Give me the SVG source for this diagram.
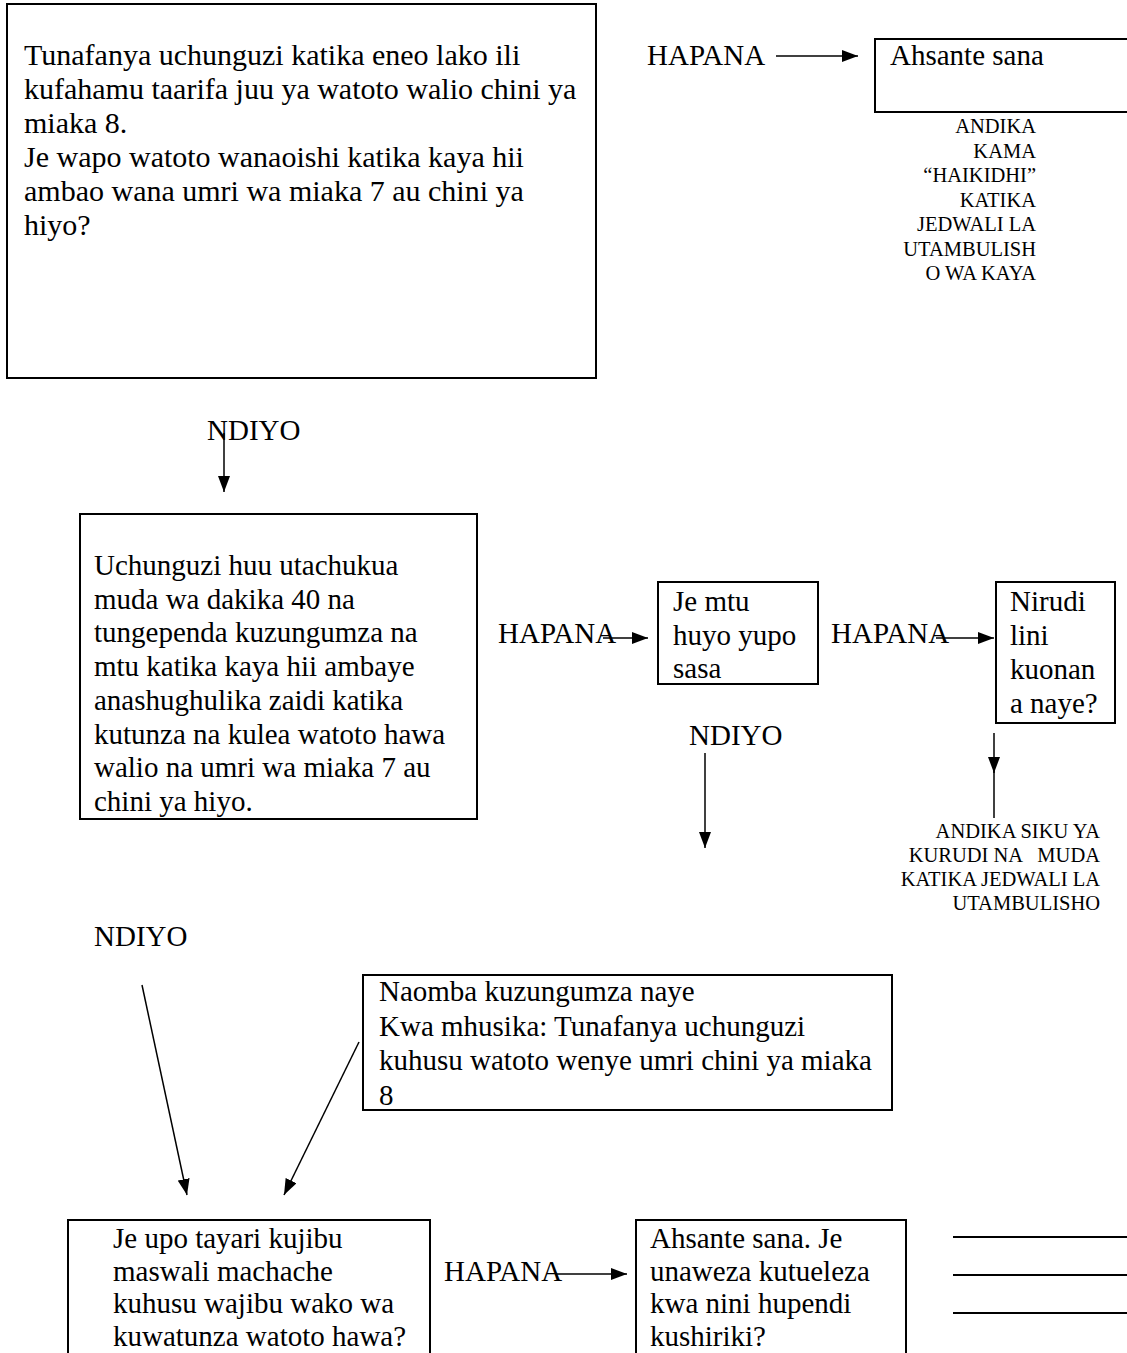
<svg xmlns="http://www.w3.org/2000/svg" width="1127" height="1353" viewBox="0 0 1127 1353">
<style>
.box{fill:#fff;stroke:#000;stroke-width:2}
.t{font-family:"Liberation Serif","Times New Roman",serif;font-size:29px;fill:#000}
.t1{font-size:30px}
.s{font-family:"Liberation Serif","Times New Roman",serif;font-size:20.5px;fill:#000;text-anchor:end}
.ln{stroke:#000;stroke-width:1.5;fill:none}
.wl{stroke:#000;stroke-width:2}
</style>
<defs>
<marker id="ah" viewBox="0 0 16 12" refX="16" refY="6" markerWidth="16" markerHeight="12" markerUnits="userSpaceOnUse" orient="auto">
<path d="M0,0 L16,6 L0,12 z" fill="#000"/>
</marker>
</defs>
<rect width="1127" height="1353" fill="#fff"/>

<g id="n1">
<rect class="box" x="7" y="4" width="589" height="374"/>
<text class="t t1"><tspan x="24" y="65">Tunafanya uchunguzi katika eneo lako ili</tspan><tspan x="24" y="99">kufahamu taarifa juu ya watoto walio chini ya</tspan><tspan x="24" y="133">miaka 8.</tspan><tspan x="24" y="167">Je wapo watoto wanaoishi katika kaya hii</tspan><tspan x="24" y="201">ambao wana umri wa miaka 7 au chini ya</tspan><tspan x="24" y="235">hiyo?</tspan></text>
</g>

<g id="n2">
<rect class="box" x="875" y="39" width="270" height="73"/>
<text class="t" x="890" y="65">Ahsante sana</text>
</g>

<g id="n3">
<rect class="box" x="80" y="514" width="397" height="305"/>
<text class="t"><tspan x="94" y="575">Uchunguzi huu utachukua</tspan><tspan x="94" y="608.7">muda wa dakika 40 na</tspan><tspan x="94" y="642.4">tungependa kuzungumza na</tspan><tspan x="94" y="676.1">mtu katika kaya hii ambaye</tspan><tspan x="94" y="709.8">anashughulika zaidi katika</tspan><tspan x="94" y="743.5">kutunza na kulea watoto hawa</tspan><tspan x="94" y="777.2">walio na umri wa miaka 7 au</tspan><tspan x="94" y="810.9">chini ya hiyo.</tspan></text>
</g>

<g id="n4">
<rect class="box" x="658" y="582" width="160" height="102"/>
<text class="t"><tspan x="673" y="611">Je mtu</tspan><tspan x="673" y="645">huyo yupo</tspan><tspan x="673" y="678">sasa</tspan></text>
</g>

<g id="n5">
<rect class="box" x="996" y="582" width="119" height="141"/>
<text class="t"><tspan x="1010" y="611">Nirudi</tspan><tspan x="1010" y="645">lini</tspan><tspan x="1010" y="679">kuonan</tspan><tspan x="1010" y="713">a naye?</tspan></text>
</g>

<g id="n6">
<rect class="box" x="363" y="975" width="529" height="135"/>
<text class="t"><tspan x="379" y="1001">Naomba kuzungumza naye</tspan><tspan x="379" y="1035.5">Kwa mhusika: Tunafanya uchunguzi</tspan><tspan x="379" y="1070">kuhusu watoto wenye umri chini ya miaka</tspan><tspan x="379" y="1104.5">8</tspan></text>
</g>

<g id="n7">
<rect class="box" x="68" y="1220" width="362" height="150"/>
<text class="t"><tspan x="113" y="1248">Je upo tayari kujibu</tspan><tspan x="113" y="1280.5">maswali machache</tspan><tspan x="113" y="1313">kuhusu wajibu wako wa</tspan><tspan x="113" y="1345.5">kuwatunza watoto hawa?</tspan></text>
</g>

<g id="n8">
<rect class="box" x="636" y="1220" width="270" height="150"/>
<text class="t"><tspan x="650" y="1248">Ahsante sana. Je</tspan><tspan x="650" y="1280.5">unaweza kutueleza</tspan><tspan x="650" y="1313">kwa nini hupendi</tspan><tspan x="650" y="1345.5">kushiriki?</tspan></text>
</g>

<g id="notes">
<text class="s"><tspan x="1036" y="133">ANDIKA</tspan><tspan x="1036" y="157.5">KAMA</tspan><tspan x="1036" y="182">“HAIKIDHI”</tspan><tspan x="1036" y="206.5">KATIKA</tspan><tspan x="1036" y="231">JEDWALI LA</tspan><tspan x="1036" y="255.5">UTAMBULISH</tspan><tspan x="1036" y="280">O WA KAYA</tspan></text>
<text class="s" style="white-space:pre"><tspan x="1100" y="838">ANDIKA SIKU YA</tspan><tspan x="1100" y="862">KURUDI NA   MUDA</tspan><tspan x="1100" y="886">KATIKA JEDWALI LA</tspan><tspan x="1100" y="910">UTAMBULISHO</tspan></text>
</g>

<g id="answer-lines">
<line class="wl" x1="953" y1="1237" x2="1127" y2="1237"/>
<line class="wl" x1="953" y1="1275" x2="1127" y2="1275"/>
<line class="wl" x1="953" y1="1313" x2="1127" y2="1313"/>
</g>

<g id="connectors">
<text class="t" x="647" y="65">HAPANA</text>
<line class="ln" x1="776" y1="56" x2="858" y2="56" marker-end="url(#ah)"/>

<text class="t" x="207" y="440">NDIYO</text>
<line class="ln" x1="224" y1="433" x2="224" y2="492" marker-end="url(#ah)"/>

<text class="t" x="498" y="643">HAPANA</text>
<line class="ln" x1="603" y1="638" x2="648" y2="638" marker-end="url(#ah)"/>

<text class="t" x="831" y="643">HAPANA</text>
<line class="ln" x1="936" y1="638" x2="994" y2="638" marker-end="url(#ah)"/>

<text class="t" x="689" y="745">NDIYO</text>
<line class="ln" x1="705" y1="753" x2="705" y2="848" marker-end="url(#ah)"/>

<line class="ln" x1="994" y1="733" x2="994" y2="773" marker-end="url(#ah)"/>
<line class="ln" x1="994" y1="770" x2="994" y2="818"/>

<text class="t" x="94" y="946">NDIYO</text>
<line class="ln" x1="142" y1="985" x2="187" y2="1195" marker-end="url(#ah)"/>
<line class="ln" x1="359" y1="1042" x2="284" y2="1195" marker-end="url(#ah)"/>

<text class="t" x="444" y="1281">HAPANA</text>
<line class="ln" x1="556" y1="1274" x2="627" y2="1274" marker-end="url(#ah)"/>
</g>
</svg>
